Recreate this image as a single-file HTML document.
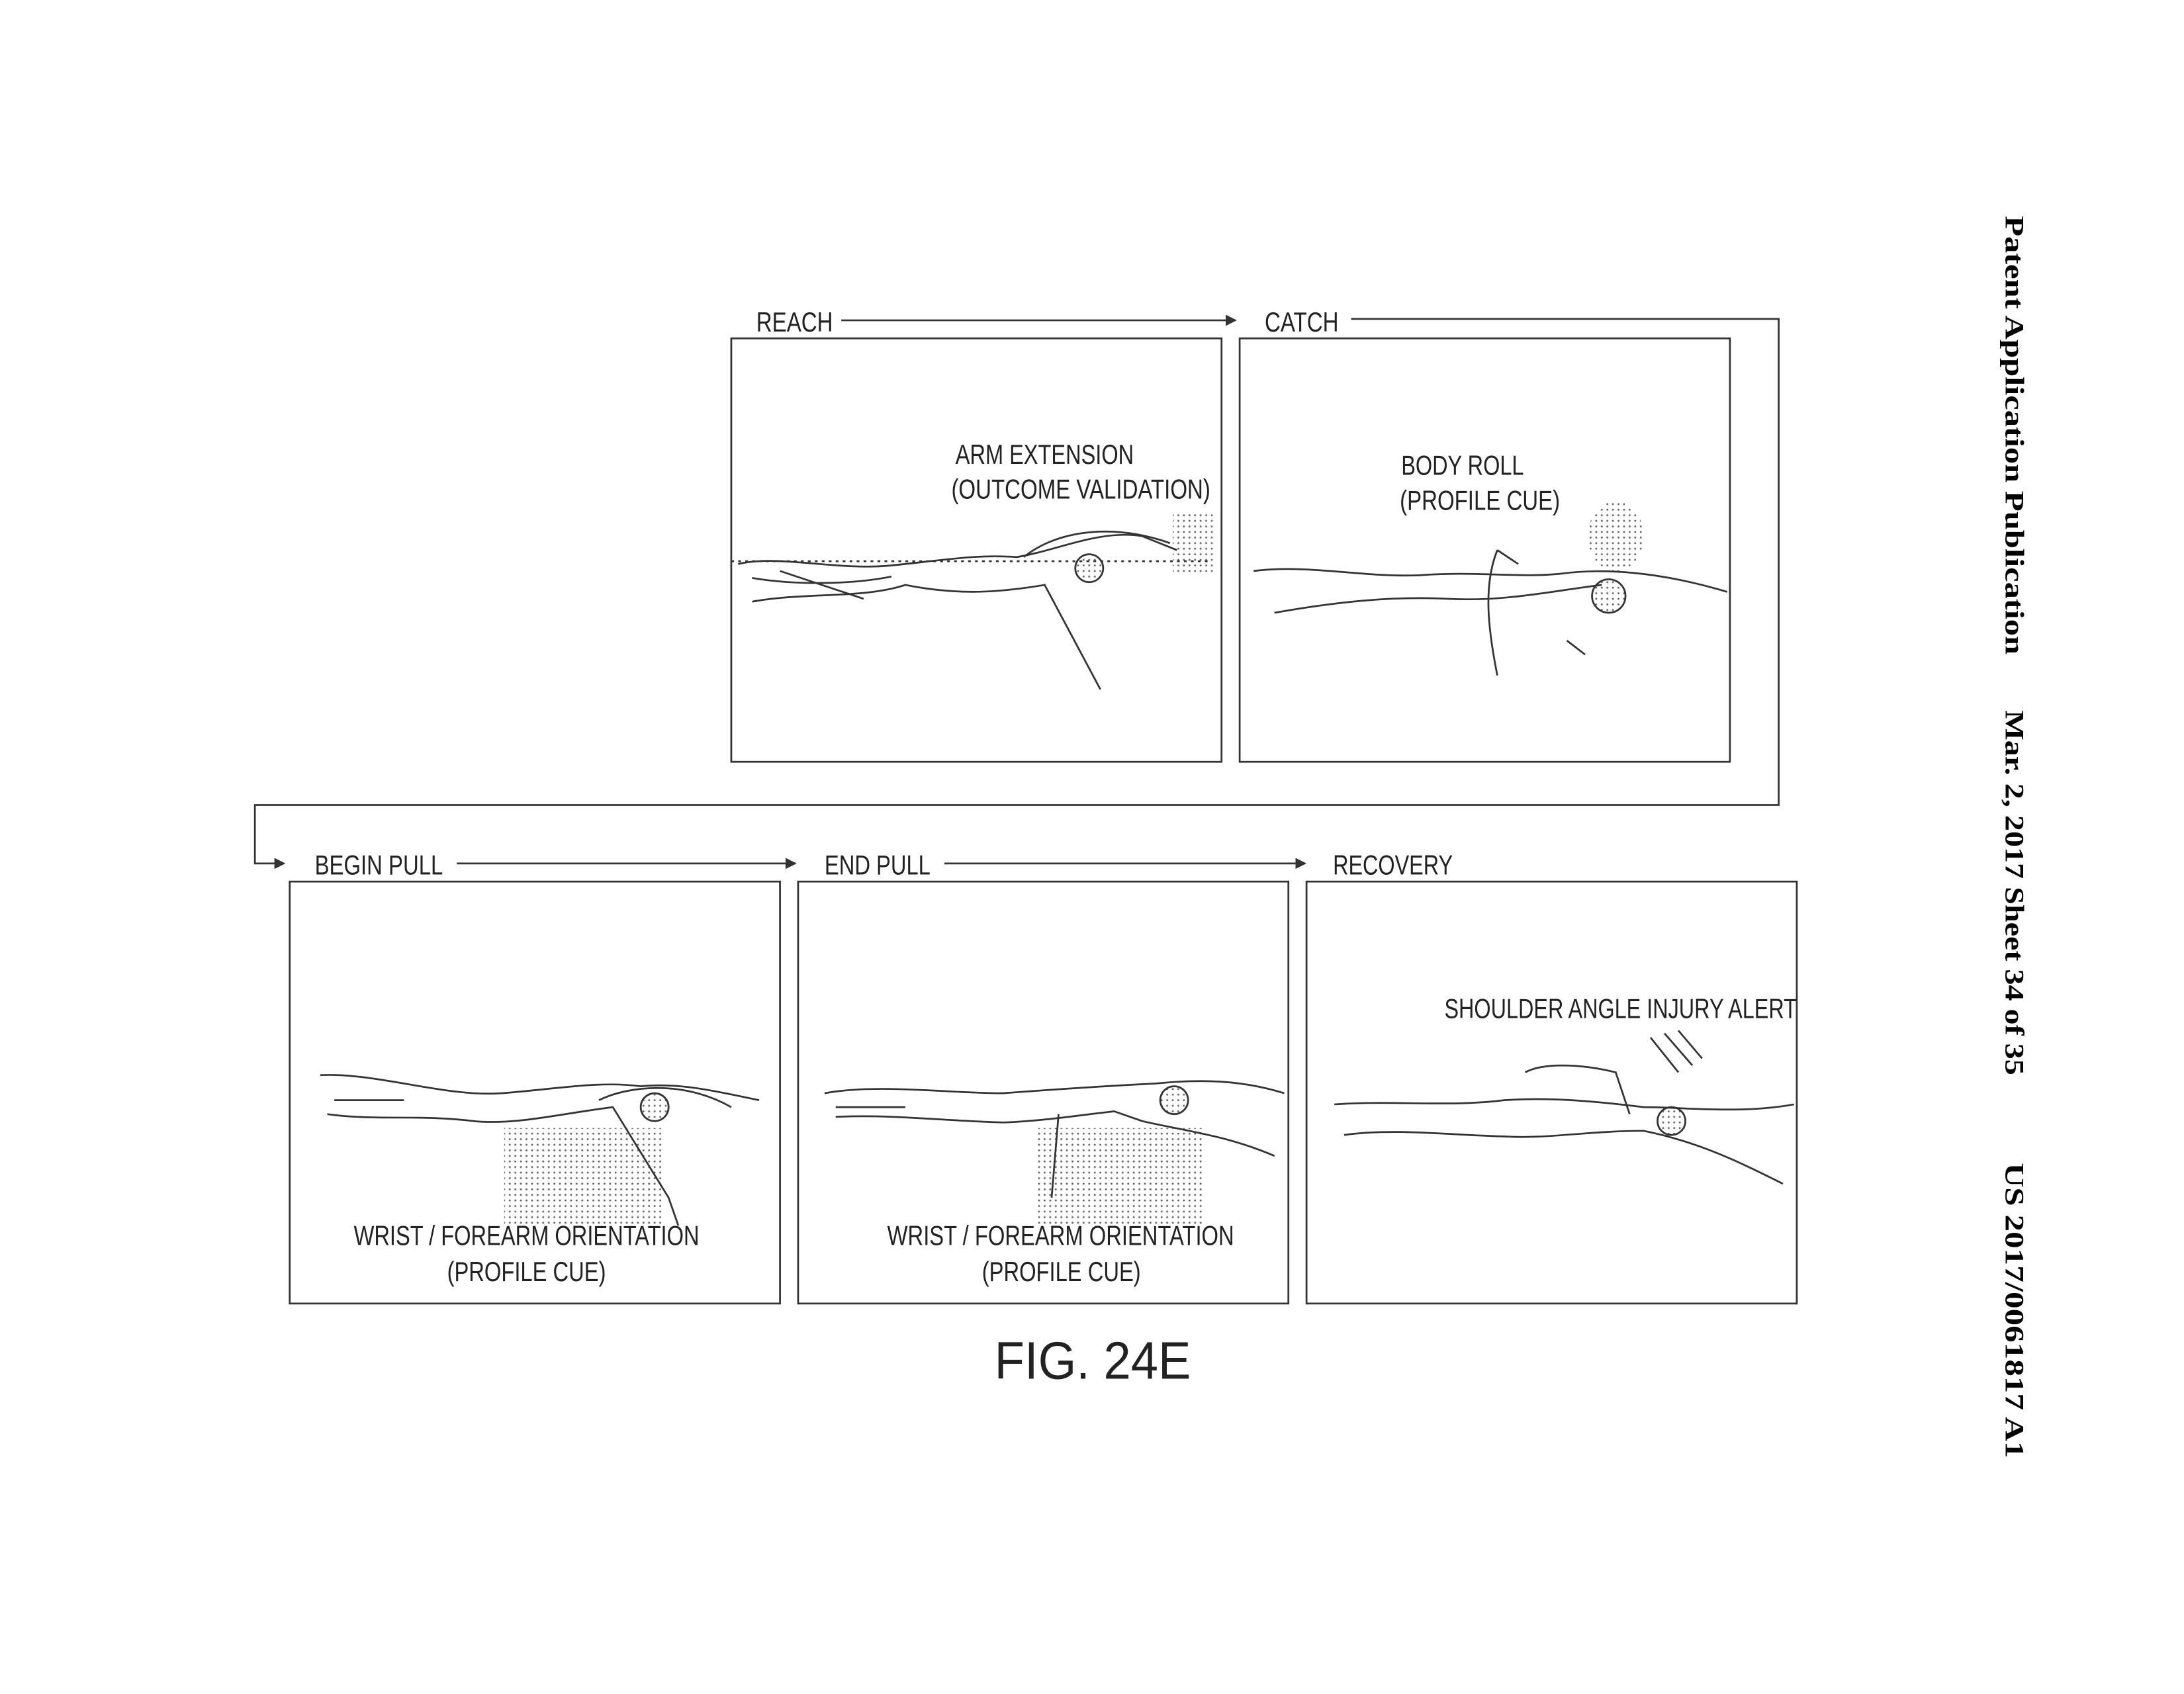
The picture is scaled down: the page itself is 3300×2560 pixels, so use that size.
<!DOCTYPE html>
<html><head><meta charset="utf-8"><style>
html,body{margin:0;padding:0;background:#fff}
svg{display:block}
text{font-family:"Liberation Sans",sans-serif;fill:#222}
</style></head><body>
<svg width="3300" height="2560" viewBox="0 0 3300 2560" xmlns="http://www.w3.org/2000/svg">
<defs>
<pattern id="dots" width="4" height="4" patternUnits="userSpaceOnUse"><circle cx="2" cy="2" r="0.7" fill="#666"/></pattern>
<marker id="ah" markerWidth="8" markerHeight="8" refX="7" refY="4" orient="auto" markerUnits="userSpaceOnUse"><path d="M0,0 L8,4 L0,8 Z" fill="#333"/></marker>
</defs>
<rect width="3300" height="2560" fill="#fff"/>
<g transform="scale(2.1046)" stroke="#333" fill="none" stroke-width="1.3">
  <g stroke="none">
    <text transform="translate(1440,155) rotate(90)" font-weight="bold" font-size="19" textLength="315" lengthAdjust="spacingAndGlyphs" style="font-family:'Liberation Serif',serif;fill:#000">Patent Application Publication</text>
    <text transform="translate(1440,510) rotate(90)" font-weight="bold" font-size="19" textLength="262" lengthAdjust="spacingAndGlyphs" style="font-family:'Liberation Serif',serif;fill:#000">Mar. 2, 2017  Sheet 34 of 35</text>
    <text transform="translate(1440,835) rotate(90)" font-weight="bold" font-size="19" textLength="212" lengthAdjust="spacingAndGlyphs" style="font-family:'Liberation Serif',serif;fill:#000">US 2017/0061817 A1</text>
  </g>
  <g>
    <line x1="604" y1="230" x2="887" y2="230" marker-end="url(#ah)"/>
    <polyline points="970,229 1277,229 1277,578 183,578 183,620 204,620" marker-end="url(#ah)"/>
    <line x1="328" y1="620" x2="571" y2="620" marker-end="url(#ah)"/>
    <line x1="678" y1="620" x2="937" y2="620" marker-end="url(#ah)"/>
  </g>
  <g stroke="none" font-size="20">
    <text x="543" y="238" textLength="55" lengthAdjust="spacingAndGlyphs">REACH</text>
    <text x="908" y="238" textLength="53" lengthAdjust="spacingAndGlyphs">CATCH</text>
    <text x="226" y="628" textLength="92" lengthAdjust="spacingAndGlyphs">BEGIN PULL</text>
    <text x="592" y="628" textLength="76" lengthAdjust="spacingAndGlyphs">END PULL</text>
    <text x="957" y="628" textLength="86" lengthAdjust="spacingAndGlyphs">RECOVERY</text>
  </g>
  <rect x="525" y="243" width="352" height="304"/>
  <rect x="890" y="243" width="352" height="304"/>
  <rect x="208" y="633" width="352" height="303"/>
  <rect x="573" y="633" width="352" height="303"/>
  <rect x="938" y="633" width="352" height="303"/>
  <rect x="842" y="368" width="30" height="45" fill="url(#dots)" stroke="none"/>
  <ellipse cx="1160" cy="385" rx="20" ry="25" fill="url(#dots)" stroke="none"/>
  <rect x="362" y="810" width="115" height="70" fill="url(#dots)" stroke="none"/>
  <rect x="745" y="810" width="118" height="70" fill="url(#dots)" stroke="none"/>
  <g>
    <path d="M530,405 C560,398 600,410 640,406 C680,402 700,398 730,400 C760,395 790,380 820,385 L845,395 M540,415 C570,420 610,420 640,414 M540,432 C580,425 620,430 650,420 C690,428 720,425 750,420 L790,495 M560,410 L620,430 M735,400 C760,380 800,376 840,390"/>
    <circle cx="782" cy="408" r="10" fill="url(#dots)"/>
    <path d="M525,403 L870,403" stroke-dasharray="2,3"/>
  </g>
  <g>
    <path d="M900,410 C940,405 980,415 1020,413 C1060,410 1090,415 1120,412 C1150,408 1190,410 1240,425 M915,440 C960,432 1000,428 1040,430 C1080,432 1110,425 1150,420 M1075,395 C1065,420 1068,450 1075,485 M1125,460 L1138,470 M1090,405 L1075,395"/>
    <circle cx="1155" cy="428" r="12" fill="url(#dots)"/>
  </g>
  <g>
    <path d="M230,772 C270,770 320,788 360,785 C400,782 430,776 460,780 C490,777 520,785 545,790 M235,800 C270,805 300,800 340,805 C370,808 400,800 440,795 L480,860 L487,880 M240,790 L290,790 M430,790 C450,780 490,775 525,795"/>
    <circle cx="470" cy="795" r="10" fill="url(#dots)"/>
  </g>
  <g>
    <path d="M592,785 C630,778 680,785 720,785 C760,782 790,780 830,778 C860,775 890,775 922,785 M600,802 C640,800 680,805 720,806 C750,805 780,800 800,798 L820,805 C850,812 880,815 915,830 M760,800 L755,860 M600,795 L650,795"/>
    <circle cx="843" cy="790" r="10" fill="url(#dots)"/>
  </g>
  <g>
    <path d="M958,793 C1000,790 1040,795 1080,790 C1110,788 1140,790 1180,795 C1210,795 1250,800 1288,793 M965,815 C1000,810 1040,815 1080,816 C1110,818 1140,812 1180,812 C1220,820 1250,835 1280,850 M1095,770 C1110,762 1140,765 1160,770 L1170,800 M1185,745 L1205,770 M1195,742 L1215,765 M1205,740 L1222,760"/>
    <circle cx="1200" cy="805" r="10" fill="url(#dots)"/>
  </g>
  <g stroke="none" font-size="20">
    <text x="686" y="333" textLength="128" lengthAdjust="spacingAndGlyphs">ARM EXTENSION</text>
    <text x="683" y="358" textLength="186" lengthAdjust="spacingAndGlyphs">(OUTCOME VALIDATION)</text>
    <text x="1006" y="341" textLength="88" lengthAdjust="spacingAndGlyphs">BODY ROLL</text>
    <text x="1005" y="366" textLength="115" lengthAdjust="spacingAndGlyphs">(PROFILE CUE)</text>
    <text x="254" y="894" textLength="248" lengthAdjust="spacingAndGlyphs">WRIST / FOREARM ORIENTATION</text>
    <text x="321" y="920" textLength="114" lengthAdjust="spacingAndGlyphs">(PROFILE CUE)</text>
    <text x="637" y="894" textLength="249" lengthAdjust="spacingAndGlyphs">WRIST / FOREARM ORIENTATION</text>
    <text x="705" y="920" textLength="114" lengthAdjust="spacingAndGlyphs">(PROFILE CUE)</text>
    <text x="1037" y="731" textLength="253" lengthAdjust="spacingAndGlyphs">SHOULDER ANGLE INJURY ALERT</text>
    <text x="714" y="990" font-size="38" textLength="141" lengthAdjust="spacingAndGlyphs">FIG. 24E</text>
  </g>
</g>
</svg>
</body></html>
